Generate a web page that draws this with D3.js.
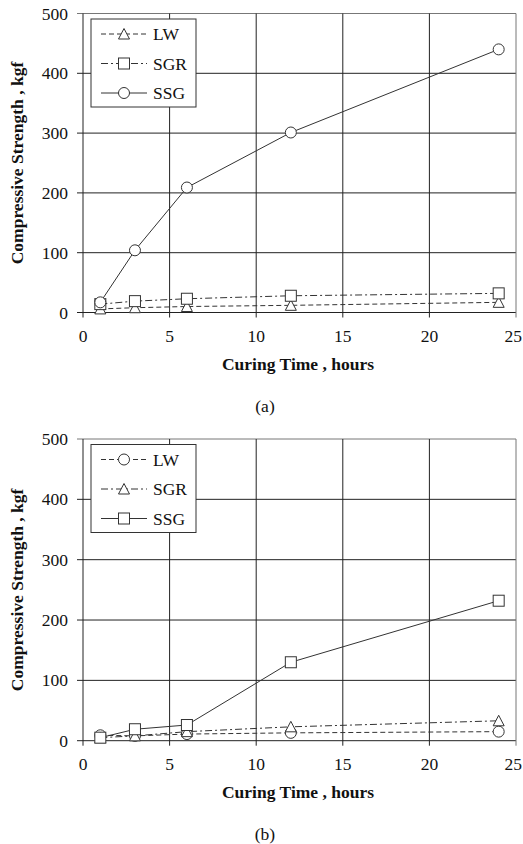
<!DOCTYPE html>
<html lang="en">
<head>
    <meta charset="UTF-8">
    <title>Compressive strength vs curing time</title>
    <script src="https://cdn.jsdelivr.net/npm/d3@7/dist/d3.min.js"></script>
    <style>
        body { margin: 0; background: #fff; }
        text { font-family: "Liberation Serif", "Times New Roman", serif; fill: #111; }
    </style>
</head>
<body>
<script type="application/javascript">

    let w = 523, h = 844;

    // curing time (hours)
    let hours = [1, 3, 6, 12, 24];
    let xTicks = [0, 5, 10, 15, 20, 25];
    let yTicks = [0, 100, 200, 300, 400, 500];

    // panel (a)
    let aLW  = [6, 8, 10, 12, 17];
    let aSGR = [14, 19, 23, 28, 32];
    let aSSG = [17, 104, 209, 301, 440];

    // panel (b)
    let bLW  = [9, 8, 11, 13, 15];
    let bSGR = [5, 8, 15, 23, 33];
    let bSSG = [5, 19, 26, 130, 232];

    let names = ["LW", "SGR", "SSG"];

    let dashes = {
        dash: "5,3",
        dashdot: "7,3,2,3",
        solid: null
    };

    let fs = 17.5;

    let svg = d3.select("body")
        .append("svg")
        .attr("width", w)
        .attr("height", h);

    let xScale = d3.scaleLinear().domain([0, 25]).range([83, 516]);

    function marker(sel, shape) {
        if (shape === "circle") {
            sel.append("circle").attr("r", 5.5);
        } else if (shape === "square") {
            sel.append("rect").attr("x", -5.5).attr("y", -5.5).attr("width", 11).attr("height", 11);
        } else {
            sel.append("path").attr("d", "M0,-5.5L5.5,5L-5.5,5Z");
        }
        sel.selectAll("*").attr("fill", "#fff").attr("stroke", "#333").attr("stroke-width", 1);
    }

    function panel(top, bottom, series, label) {
        let yScale = d3.scaleLinear().domain([0, 500]).range([bottom, top]);
        let g = svg.append("g");

        // grid
        g.selectAll(".gy").data(yTicks).enter().append("line")
            .attr("x1", xScale(0) - 6).attr("x2", xScale(25))
            .attr("y1", d => yScale(d)).attr("y2", d => yScale(d))
            .attr("stroke", d => d === 500 ? "#777" : "#222").attr("stroke-width", 1);
        g.selectAll(".gx").data(xTicks).enter().append("line")
            .attr("x1", d => xScale(d)).attr("x2", d => xScale(d))
            .attr("y1", yScale(500)).attr("y2", yScale(0) + 5)
            .attr("stroke", d => d === 25 ? "#777" : "#222").attr("stroke-width", 1);

        // tick labels (last one kept inside the page edge)
        g.selectAll(".ly").data(yTicks).enter().append("text")
            .attr("x", 68).attr("y", d => yScale(d) + 6)
            .attr("text-anchor", "end").attr("font-size", fs)
            .text(d => d);
        g.selectAll(".lx").data(xTicks).enter().append("text")
            .attr("x", d => d === 25 ? w - 1 : xScale(d)).attr("y", yScale(0) + 29)
            .attr("text-anchor", d => d === 25 ? "end" : "middle").attr("font-size", fs)
            .text(d => d);

        // axis titles
        g.append("text")
            .attr("x", 298).attr("y", yScale(0) + 57)
            .attr("text-anchor", "middle").attr("font-size", fs).attr("font-weight", "bold")
            .text("Curing Time ,  hours");
        g.append("text")
            .attr("transform", "translate(23," + ((top + bottom) / 2) + ") rotate(-90)")
            .attr("text-anchor", "middle").attr("font-size", fs).attr("font-weight", "bold")
            .text("Compressive Strength ,  kgf");
        g.append("text")
            .attr("x", 265).attr("y", yScale(0) + 99)
            .attr("text-anchor", "middle").attr("font-size", fs)
            .text(label);

        let line = d3.line()
            .x(d => xScale(d[0]))
            .y(d => yScale(d[1]));

        series.forEach(function(s) {
            let pts = hours.map((t, i) => [t, s.values[i]]);
            g.append("path")
                .attr("d", line(pts))
                .attr("fill", "none")
                .attr("stroke", "#333")
                .attr("stroke-width", 1)
                .attr("stroke-dasharray", dashes[s.dash]);
        });
        series.forEach(function(s) {
            g.selectAll(null).data(s.values).enter().append("g")
                .attr("transform", (d, i) => "translate(" + xScale(hours[i]) + "," + yScale(d) + ")")
                .each(function() { marker(d3.select(this), s.shape); });
        });

        // legend
        let lg = g.append("g").attr("transform", "translate(91," + (top + 5.5) + ")");
        lg.append("rect").attr("width", 105).attr("height", 88)
            .attr("fill", "#fff").attr("stroke", "#333").attr("stroke-width", 1);
        series.forEach(function(s, i) {
            let yy = 15 + i * 29.5;
            lg.append("line").attr("x1", 10).attr("x2", 56).attr("y1", yy).attr("y2", yy)
                .attr("stroke", "#333").attr("stroke-width", 1)
                .attr("stroke-dasharray", dashes[s.dash]);
            let m = lg.append("g").attr("transform", "translate(33," + yy + ")");
            marker(m, s.shape);
            lg.append("text").attr("x", 62).attr("y", yy + 6)
                .attr("font-size", fs).text(names[i]);
        });
    }

    panel(13.5, 312.5, [
        { values: aLW, dash: "dash", shape: "triangle" },
        { values: aSGR, dash: "dashdot", shape: "square" },
        { values: aSSG, dash: "solid", shape: "circle" }
    ], "(a)");

    panel(439, 740.7, [
        { values: bLW, dash: "dash", shape: "circle" },
        { values: bSGR, dash: "dashdot", shape: "triangle" },
        { values: bSSG, dash: "solid", shape: "square" }
    ], "(b)");

</script>
</body>
</html>
